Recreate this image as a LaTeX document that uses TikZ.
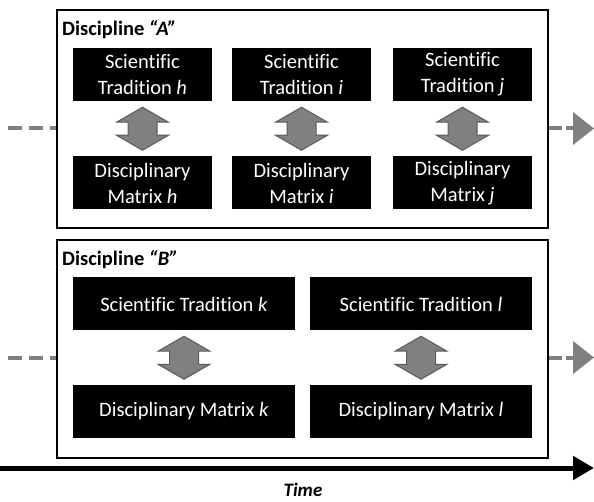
\documentclass[tikz,border=0pt]{standalone}
\usepackage{fontspec}
\setmainfont{Carlito}[Ligatures={TeX,NoCommon}]
\usetikzlibrary{arrows.meta,calc}
\definecolor{arrowgray}{HTML}{808080}
\definecolor{edgegray}{HTML}{5A5A5A}

\begin{document}
\begin{tikzpicture}[x=1pt,y=-1pt,
  discipline/.style={draw=black,line width=2pt,minimum width=491pt,minimum height=218pt,inner sep=0pt},
  headline/.style={anchor=base west,inner sep=0pt,font=\bfseries\fontsize{20.5}{24}\selectfont},
  tradbox/.style={fill=black,text=white,align=center,inner sep=0pt,minimum width=139pt,minimum height=53pt,font=\fontsize{20.5}{26}\selectfont},
  widebox/.style={tradbox,minimum width=222pt},
  exchange/.style={fill=arrowgray,draw=edgegray,line width=1pt,line join=miter},
  lineage/.style={draw=arrowgray,line width=4pt,dash pattern=on 14pt off 7pt},
  onward/.style={draw=arrowgray,line width=4pt,dash pattern=on 13pt off 4pt,-{Triangle[length=21pt,width=32pt,fill=arrowgray]}}]
  \useasboundingbox (0,0) rectangle (594,502);

  \node[discipline] (A) at (302.5,119) {};
  \node[headline] (labA) at (62,36) {Discipline \textit{``A''}};
  \node[tradbox] (sth) at (142.5,74.5) {Scientific\\Tradition \textit{h}};
  \node[tradbox] (sti) at (301.5,74.5) {Scientific\\Tradition \textit{i}};
  \node[tradbox] (stj) at (462.5,74.5) {Scientific\\Tradition \textit{j}};
  \node[tradbox] (dmh) at (142.5,183) {Disciplinary\\Matrix \textit{h}};
  \node[tradbox] (dmi) at (301.5,183) {Disciplinary\\Matrix \textit{i}};
  \node[tradbox] (dmj) at (462.5,183) {Disciplinary\\Matrix \textit{j}};

  \node[discipline] (B) at (302.5,349) {};
  \node[headline] (labB) at (62,266) {Discipline \textit{``B''}};
  \node[widebox] (stk) at (184,304) {Scientific Tradition \textit{k}};
  \node[widebox] (stl) at (421,304) {Scientific Tradition \textit{l}};
  \node[widebox] (dmk) at (184,411.5) {Disciplinary Matrix \textit{k}};
  \node[widebox] (dml) at (421,411.5) {Disciplinary Matrix \textit{l}};

  \foreach \s/\d in {sth/dmh,sti/dmi,stj/dmj,stk/dmk,stl/dml}
    \draw[exchange] ($(\s.south)!0.5!(\d.north)$) ++(0,-21.5) -- ++(26,15) -- ++(-11.5,0) -- ++(0,13)
      -- ++(11.5,0) -- ++(-26,15) -- ++(-26,-15) -- ++(11.5,0) -- ++(0,-13) -- ++(-11.5,0) -- cycle;

  \coordinate (inA) at (8,128.5);
  \coordinate (outA) at (594,128.5);
  \coordinate (inB) at (8,357.5);
  \coordinate (outB) at (594,357.5);
  \draw[lineage] (inA) -- (A.west |- inA);
  \draw[onward] (A.east |- outA) -- (outA);
  \draw[lineage] (inB) -- (B.west |- inB);
  \draw[onward] (B.east |- outB) -- (outB);

  \coordinate (t0) at (0,468);
  \coordinate (t1) at (594,468);
  \draw[line width=5pt,-{Triangle[length=21pt,width=23pt]}] (t0) -- (t1);
  \node[anchor=base,inner sep=0pt,font=\bfseries\itshape\fontsize{19}{22}\selectfont] (time) at (303,496) {Time};
\end{tikzpicture}
\end{document}
